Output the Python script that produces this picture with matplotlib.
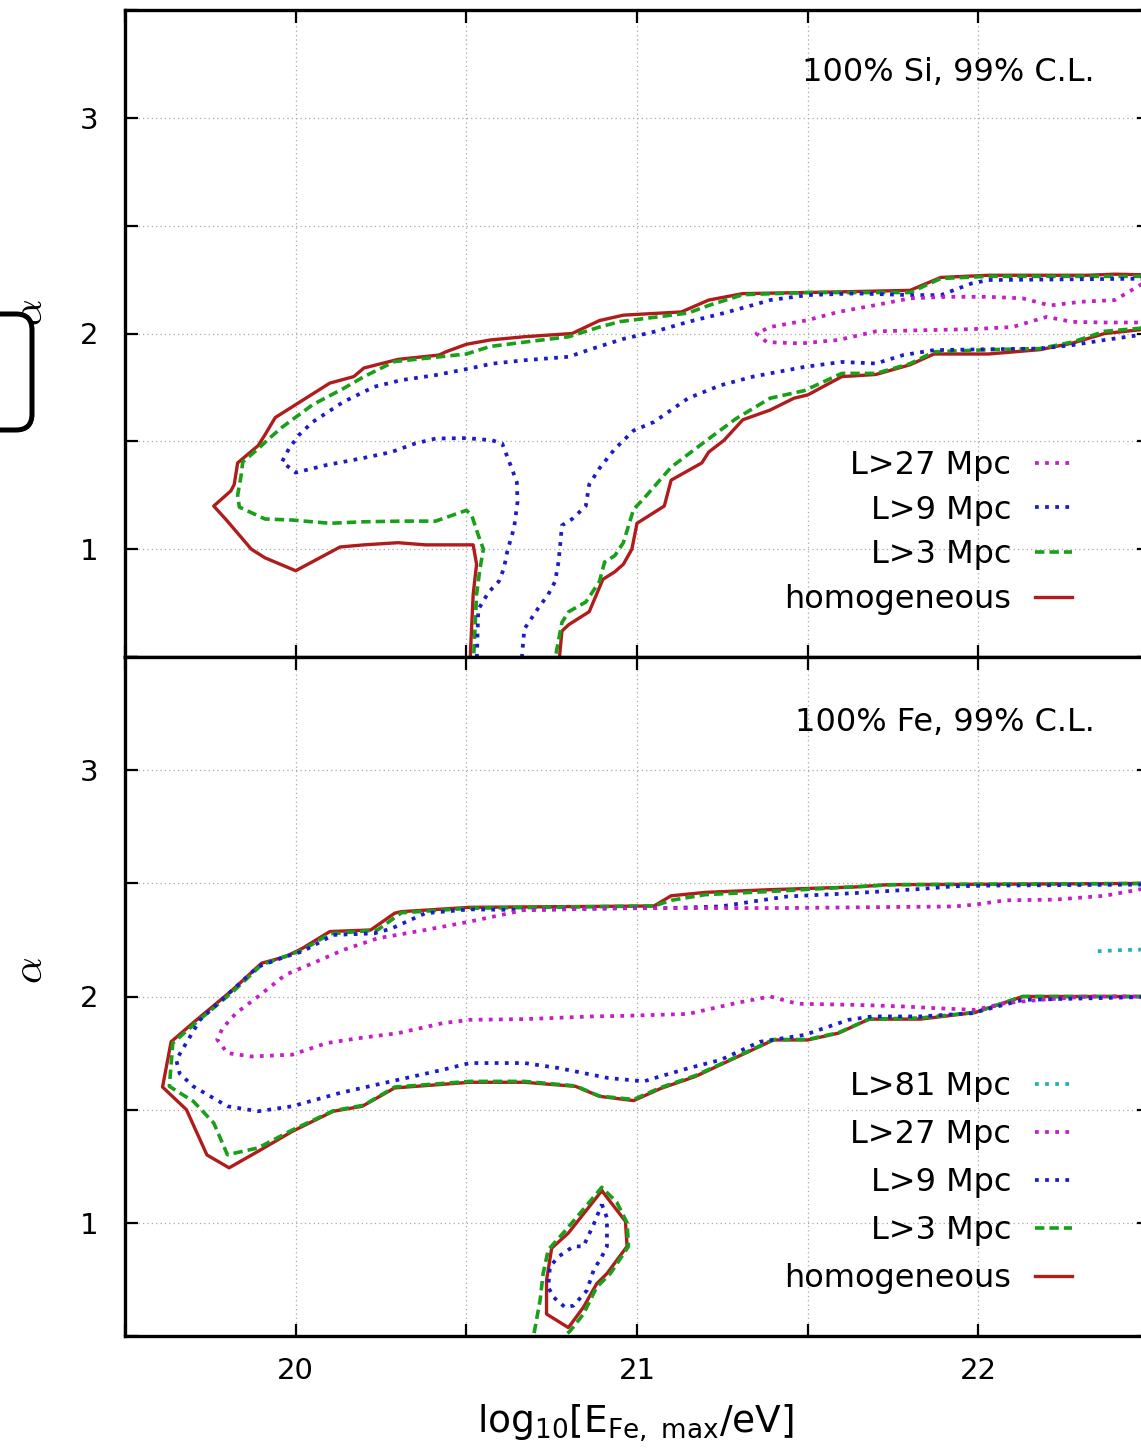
import matplotlib
matplotlib.use("Agg")
import matplotlib.pyplot as plt
from matplotlib.patches import FancyBboxPatch
from matplotlib.ticker import MultipleLocator, FuncFormatter

# ---- 100% Si panel: 99% C.L. contours (x = log10 Emax, y = alpha) ----
si_hom_a_x = [20.51, 20.52, 20.53, 20.52, 20.45, 20.38, 20.30, 20.20, 20.13, 20.00, 19.91, 19.87, 19.80, 19.76,
              19.81, 19.82, 19.83, 19.89, 19.91, 19.94, 20.01, 20.10, 20.17, 20.20, 20.30, 20.42, 20.44, 20.50,
              20.57, 20.67, 20.81, 20.89, 20.96, 21.13, 21.21, 21.31, 21.50, 21.80, 21.89, 22.03, 22.32, 22.40, 22.55]
si_hom_a_y = [0.45, 0.79, 0.93, 1.02, 1.02, 1.02, 1.03, 1.02, 1.01, 0.90, 0.96, 1.00, 1.13, 1.20,
              1.27, 1.30, 1.40, 1.48, 1.53, 1.61, 1.68, 1.77, 1.80, 1.84, 1.88, 1.90, 1.915, 1.95,
              1.97, 1.985, 2.00, 2.06, 2.085, 2.10, 2.155, 2.185, 2.19, 2.20, 2.26, 2.27, 2.27, 2.275, 2.27]
si_hom_b_x = [20.77, 20.78, 20.80, 20.86, 20.90, 20.935, 20.96, 20.985, 21.00, 21.08, 21.10, 21.19, 21.21, 21.255,
              21.31, 21.39, 21.46, 21.50, 21.60, 21.70, 21.80, 21.87, 22.03, 22.18, 22.275, 22.37, 22.55]
si_hom_b_y = [0.45, 0.62, 0.65, 0.71, 0.86, 0.895, 0.93, 1.00, 1.12, 1.20, 1.32, 1.40, 1.45, 1.505,
              1.60, 1.645, 1.70, 1.715, 1.80, 1.81, 1.855, 1.905, 1.905, 1.925, 1.955, 2.00, 2.03]

si_l3_a_x = [20.52, 20.53, 20.54, 20.55, 20.535, 20.515, 20.50, 20.41, 20.31, 20.20, 20.10, 19.99, 19.91, 19.835,
             19.83, 19.84, 19.845, 19.89, 19.92, 19.96, 20.05, 20.14, 20.20, 20.29, 20.38, 20.50, 20.57, 20.67,
             20.80, 20.89, 20.95, 21.15, 21.21, 21.31, 21.50, 21.80, 21.89, 22.03, 22.55]
si_l3_a_y = [0.45, 0.79, 0.91, 1.00, 1.065, 1.16, 1.18, 1.13, 1.13, 1.127, 1.12, 1.135, 1.14, 1.195,
             1.25, 1.34, 1.405, 1.465, 1.51, 1.565, 1.67, 1.745, 1.80, 1.87, 1.885, 1.905, 1.94, 1.96,
             1.985, 2.03, 2.055, 2.095, 2.13, 2.18, 2.19, 2.19, 2.255, 2.265, 2.265]
si_l3_b_x = [20.755, 20.78, 20.80, 20.85, 20.89, 20.905, 20.935, 20.96, 20.99, 21.02, 21.10, 21.20, 21.29, 21.39,
             21.49, 21.60, 21.70, 21.80, 21.87, 22.03, 22.18, 22.275, 22.37, 22.55]
si_l3_b_y = [0.45, 0.66, 0.71, 0.755, 0.85, 0.94, 0.97, 1.03, 1.185, 1.235, 1.38, 1.50, 1.605, 1.70,
             1.735, 1.815, 1.815, 1.86, 1.915, 1.925, 1.93, 1.96, 2.01, 2.035]

si_l9_a_x = [20.53, 20.535, 20.565, 20.595, 20.61, 20.62, 20.64, 20.65, 20.648, 20.633, 20.605, 20.575, 20.50,
             20.41, 20.35, 20.28, 20.19, 20.09, 20.00, 19.96, 19.98, 20.01, 20.05, 20.14, 20.23, 20.31, 20.41,
             20.51, 20.575, 20.67, 20.80, 20.87, 20.96, 21.05, 21.15, 21.25, 21.34, 21.39, 21.50, 21.64, 21.80,
             21.89, 21.98, 22.03, 22.55]
si_l9_a_y = [0.45, 0.72, 0.80, 0.85, 0.91, 0.99, 1.10, 1.22, 1.31, 1.375, 1.49, 1.505, 1.515,
             1.513, 1.49, 1.45, 1.42, 1.39, 1.355, 1.405, 1.465, 1.53, 1.59, 1.683, 1.753, 1.784, 1.807,
             1.838, 1.86, 1.876, 1.892, 1.93, 1.975, 2.008, 2.054, 2.093, 2.132, 2.155, 2.178, 2.186, 2.178,
             2.178, 2.232, 2.248, 2.255]
si_l9_b_x = [20.66, 20.67, 20.71, 20.74, 20.76, 20.77, 20.775, 20.78, 20.81, 20.85, 20.86, 20.89, 20.935, 20.99,
             21.05, 21.15, 21.245, 21.34, 21.49, 21.60, 21.70, 21.78, 21.87, 22.03, 22.18, 22.275, 22.37, 22.55]
si_l9_b_y = [0.45, 0.63, 0.725, 0.79, 0.85, 0.94, 1.02, 1.11, 1.14, 1.20, 1.30, 1.375, 1.465, 1.55,
             1.59, 1.70, 1.76, 1.80, 1.845, 1.868, 1.861, 1.90, 1.923, 1.927, 1.93, 1.946, 1.97, 2.01]

si_l27_x = [22.55, 22.48, 22.40, 22.30, 22.21, 22.13, 22.03, 21.91, 21.80, 21.70, 21.59, 21.50, 21.39, 21.35,
            21.38, 21.48, 21.59, 21.70, 21.83, 21.98, 22.10, 22.20, 22.275, 22.37, 22.55]
si_l27_y = [2.26, 2.23, 2.155, 2.147, 2.13, 2.163, 2.17, 2.17, 2.163, 2.132, 2.10, 2.062, 2.03, 2.00,
            1.96, 1.954, 1.97, 2.01, 2.015, 2.02, 2.03, 2.077, 2.054, 2.051, 2.051]

# ---- 100% Fe panel ----
fe_hom_x = [22.55, 21.735, 21.64, 21.39, 21.20, 21.10, 21.05, 20.51, 20.31, 20.29, 20.22, 20.10, 20.02, 19.97,
            19.90, 19.815, 19.71, 19.635, 19.61, 19.68, 19.74, 19.805, 19.89, 19.99, 20.11, 20.195, 20.29,
            20.51, 20.67, 20.82, 20.89, 20.99, 21.07, 21.17, 21.275, 21.40, 21.50, 21.59, 21.68, 21.83,
            21.99, 22.13, 22.55]
fe_hom_y = [2.50, 2.494, 2.484, 2.472, 2.46, 2.445, 2.40, 2.394, 2.375, 2.368, 2.294, 2.287, 2.213, 2.176,
            2.147, 2.029, 1.897, 1.80, 1.60, 1.50, 1.30, 1.243, 1.316, 1.404, 1.493, 1.515, 1.596,
            1.621, 1.621, 1.603, 1.559, 1.54, 1.594, 1.646, 1.72, 1.808, 1.808, 1.838, 1.90, 1.90,
            1.929, 2.00, 2.00]

fe_l3_x = [22.55, 21.75, 21.40, 21.20, 21.10, 21.05, 20.51, 20.31, 20.24, 20.10, 20.02, 19.90, 19.815, 19.71,
           19.64, 19.63, 19.70, 19.76, 19.80, 19.89, 19.99, 20.11, 20.20, 20.29, 20.51, 20.67, 20.82, 20.89,
           20.99, 21.07, 21.17, 21.275, 21.40, 21.50, 21.59, 21.68, 21.83, 21.99, 22.13, 22.55]
fe_l3_y = [2.50, 2.494, 2.465, 2.45, 2.425, 2.40, 2.39, 2.37, 2.294, 2.277, 2.205, 2.14, 2.02, 1.887,
           1.794, 1.603, 1.537, 1.441, 1.301, 1.331, 1.41, 1.495, 1.52, 1.60, 1.625, 1.625, 1.605, 1.56,
           1.545, 1.598, 1.65, 1.722, 1.81, 1.81, 1.84, 1.90, 1.905, 1.93, 2.00, 2.00]

fe_l9_x = [22.55, 22.03, 21.93, 21.83, 21.64, 21.44, 21.34, 21.245, 21.10, 20.95, 20.67, 20.51, 20.38, 20.28,
           20.23, 20.11, 20.02, 19.97, 19.89, 19.805, 19.72, 19.65, 19.66, 19.70, 19.80, 19.89, 19.99, 20.13,
           20.28, 20.43, 20.51, 20.67, 20.77, 20.915, 21.02, 21.05, 21.15, 21.245, 21.36, 21.49, 21.62,
           21.69, 21.83, 21.98, 22.13, 22.55]
fe_l9_y = [2.495, 2.49, 2.487, 2.475, 2.457, 2.442, 2.42, 2.398, 2.391, 2.39, 2.382, 2.385, 2.368, 2.30,
           2.279, 2.272, 2.199, 2.176, 2.132, 2.015, 1.897, 1.72, 1.66, 1.603, 1.515, 1.493, 1.515, 1.574,
           1.625, 1.676, 1.706, 1.706, 1.684, 1.64, 1.625, 1.639, 1.683, 1.72, 1.80, 1.83, 1.897,
           1.912, 1.912, 1.926, 1.985, 2.00]

fe_l27_x = [22.55, 22.48, 22.37, 22.225, 22.08, 21.99, 21.93, 21.44, 20.95, 20.67, 20.51, 20.38, 20.24, 20.14,
            20.05, 19.97, 19.89, 19.825, 19.786, 19.77, 19.80, 19.87, 19.99, 20.09, 20.185, 20.30, 20.43,
            20.51, 20.67, 20.87, 20.95, 21.15, 21.29, 21.39, 21.47, 21.64, 21.78, 21.88, 21.99, 22.08,
            22.18, 22.32, 22.55]
fe_l27_y = [2.49, 2.475, 2.445, 2.428, 2.425, 2.406, 2.398, 2.391, 2.39, 2.382, 2.331, 2.294, 2.257, 2.206,
            2.147, 2.096, 2.00, 1.926, 1.86, 1.81, 1.75, 1.735, 1.743, 1.794, 1.816, 1.838, 1.882,
            1.897, 1.90, 1.912, 1.914, 1.923, 1.971, 2.00, 1.968, 1.963, 1.956, 1.948, 1.941, 1.971,
            1.985, 2.00, 2.00]

fe_l81_x = [22.35, 22.42, 22.55]
fe_l81_y = [2.20, 2.205, 2.21]

# small island near log10 Emax ~ 20.85, alpha < 1.2
fe_isl_hom_x = [20.897, 20.966, 20.971, 20.912, 20.882, 20.843, 20.799, 20.735, 20.735, 20.75, 20.799, 20.897]
fe_isl_hom_y = [1.142, 1.007, 0.896, 0.776, 0.731, 0.627, 0.537, 0.597, 0.746, 0.888, 0.955, 1.142]
fe_isl_l3_x = [20.691, 20.716, 20.725, 20.740, 20.784, 20.843, 20.897, 20.941, 20.971, 20.975, 20.922, 20.882,
               20.843, 20.804, 20.745]
fe_isl_l3_y = [0.45, 0.657, 0.776, 0.881, 0.955, 1.060, 1.157, 1.090, 1.00, 0.896, 0.776, 0.716,
               0.597, 0.522, 0.45]
fe_isl_l9_x = [20.897, 20.912, 20.912, 20.897, 20.873, 20.853, 20.814, 20.789, 20.755, 20.740, 20.745, 20.770,
               20.814, 20.843, 20.873, 20.897]
fe_isl_l9_y = [1.082, 1.022, 0.896, 0.851, 0.791, 0.701, 0.634, 0.627, 0.672, 0.716, 0.806, 0.851,
               0.896, 0.896, 0.993, 1.082]

styles = {
    "hom": dict(color="#b01c1c", ls="-", lw=2.4),
    "l3": dict(color="#18a018", ls=(0, (2.6, 1.4)), lw=2.6),
    "l9": dict(color="#1c1cc8", ls=(0, (1.0, 1.7)), lw=2.7),
    "l27": dict(color="#c41ec4", ls=(0, (1.0, 1.7)), lw=2.7),
    "l81": dict(color="#1fb2b2", ls=(0, (1.0, 1.7)), lw=2.7),
}

W, H = 1141, 1450
fig = plt.figure(figsize=(W / 100, H / 100), dpi=100)
plt.rcParams["font.family"] = ["DejaVu Sans"]

x_left, x_right = 125 / W, 1149 / W
ax_top = fig.add_axes([x_left, 1 - 657 / H, x_right - x_left, (657 - 10) / H])
ax_bot = fig.add_axes([x_left, 1 - 1336 / H, x_right - x_left, (1336 - 657) / H])


def int_label(v, pos):
    return f"{v:.0f}" if abs(v - round(v)) < 1e-6 else ""


for ax in (ax_top, ax_bot):
    ax.set_xlim(19.5, 22.5)
    ax.set_ylim(0.5, 3.5)
    ax.xaxis.set_major_locator(MultipleLocator(0.5))
    ax.yaxis.set_major_locator(MultipleLocator(0.5))
    ax.xaxis.set_major_formatter(FuncFormatter(int_label))
    ax.yaxis.set_major_formatter(FuncFormatter(int_label))
    ax.grid(True, color="#a8a8a8", lw=0.9, ls=(0, (1, 2.5)))
    ax.set_axisbelow(True)
    ax.tick_params(direction="in", top=True, right=True, length=9, width=1.6,
                   labelsize=21, pad=19, colors="black")
    for s in ax.spines.values():
        s.set_linewidth(2.4)

ax_top.tick_params(labelbottom=False)
ax_bot.tick_params(axis="x", pad=15)


def draw(ax, xs, ys, key, label=None):
    st = styles[key]
    line, = ax.plot(xs, ys, color=st["color"], ls=st["ls"], lw=st["lw"], label=label)
    return line


# top panel: Si
h_hom = draw(ax_top, si_hom_a_x, si_hom_a_y, "hom", "homogeneous")
draw(ax_top, si_hom_b_x, si_hom_b_y, "hom")
h_l3 = draw(ax_top, si_l3_a_x, si_l3_a_y, "l3", "L>3 Mpc")
draw(ax_top, si_l3_b_x, si_l3_b_y, "l3")
h_l9 = draw(ax_top, si_l9_a_x, si_l9_a_y, "l9", "L>9 Mpc")
draw(ax_top, si_l9_b_x, si_l9_b_y, "l9")
h_l27 = draw(ax_top, si_l27_x, si_l27_y, "l27", "L>27 Mpc")

leg_kw = dict(frameon=False, markerfirst=False, fontsize=23, handlelength=1.15,
              handletextpad=0.75, borderpad=0, borderaxespad=0, loc="lower right",
              bbox_transform=fig.transFigure)
ax_top.legend(handles=[h_l27, h_l9, h_l3, h_hom], labelspacing=0.43,
              bbox_to_anchor=(1072 / W, 1 - 615 / H), **leg_kw)
ax_top.text(0.947, 0.904, "100% Si, 99% C.L.", transform=ax_top.transAxes,
            ha="right", va="center", fontsize=23)

# bottom panel: Fe
g_hom = draw(ax_bot, fe_hom_x, fe_hom_y, "hom", "homogeneous")
g_l3 = draw(ax_bot, fe_l3_x, fe_l3_y, "l3", "L>3 Mpc")
g_l9 = draw(ax_bot, fe_l9_x, fe_l9_y, "l9", "L>9 Mpc")
g_l27 = draw(ax_bot, fe_l27_x, fe_l27_y, "l27", "L>27 Mpc")
g_l81 = draw(ax_bot, fe_l81_x, fe_l81_y, "l81", "L>81 Mpc")
draw(ax_bot, fe_isl_hom_x, fe_isl_hom_y, "hom")
draw(ax_bot, fe_isl_l3_x, fe_isl_l3_y, "l3")
draw(ax_bot, fe_isl_l9_x, fe_isl_l9_y, "l9")

ax_bot.legend(handles=[g_l81, g_l27, g_l9, g_l3, g_hom], labelspacing=0.53,
              bbox_to_anchor=(1072 / W, 1 - 1294 / H), **leg_kw)
ax_bot.text(0.947, 0.903, "100% Fe, 99% C.L.", transform=ax_bot.transAxes,
            ha="right", va="center", fontsize=23)

# axis labels
fig.text(635 / W, 1 - 1423 / H, r"$\mathregular{log_{10}[E_{Fe,\ max}/eV]}$",
         ha="center", va="center", fontsize=27)
fig.text(30 / W, 1 - 970 / H, r"$\alpha$", rotation=90, ha="center", va="center",
         fontsize=30, math_fontfamily="cm")
fig.text(30 / W, 1 - 312 / H, r"$\alpha$", rotation=90, ha="center", va="center",
         fontsize=30, math_fontfamily="cm", zorder=1)

# rounded marker box at the left edge
box = FancyBboxPatch((-0.3, (H - 430) / 100), 0.62, 1.16,
                     boxstyle="round,pad=0,rounding_size=0.16",
                     transform=fig.dpi_scale_trans, lw=3.6, ec="black", fc="white", zorder=5)
fig.add_artist(box)

fig.savefig("out.png", dpi=100)
